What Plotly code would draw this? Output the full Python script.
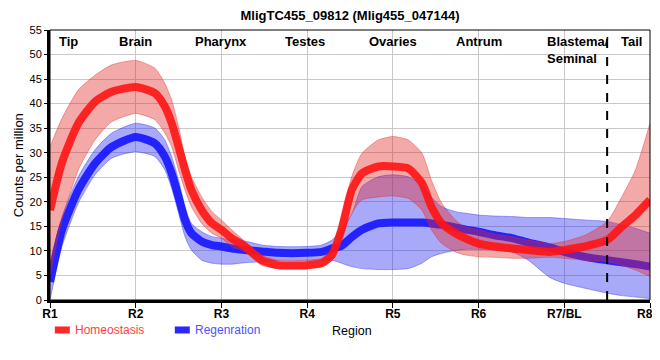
import plotly.graph_objects as go

# Region ticks
regions = ["R1", "R2", "R3", "R4", "R5", "R6", "R7/BL", "R8/T"]
region_pos = [1, 2, 3, 4, 5, 6, 7, 8]
y_ticks = list(range(0, 56, 5))

# Anatomical labels along the top
anat_labels = ["Tip", "Brain", "Pharynx", "Testes", "Ovaries", "Antrum", "Tail"]
anat_pos = [1.21, 2.0, 3.0, 3.98, 5.0, 6.0, 7.78]
blastema_label = "Blastema/<br>Seminal"
blastema_pos = 6.78
divider_pos = 7.5

x = [1.0, 1.14, 1.33, 1.525, 1.72, 2.0, 2.225, 2.34, 2.42, 2.5, 2.575, 2.65, 2.77, 2.89,
     3.0, 3.12, 3.275, 3.47, 3.66, 4.0, 4.17, 4.29, 4.4, 4.52, 4.64, 4.83, 5.0, 5.18,
     5.34, 5.45, 5.57, 5.73, 5.84, 6.0, 6.19, 6.39, 6.58, 6.83, 7.0, 7.24, 7.5, 7.67,
     7.83, 8.0]

homeo_mean = [18.3, 28.0, 36.0, 40.4, 42.4, 43.4, 42.1, 39.4, 36.0, 31.2, 26.5, 22.4, 18.3, 15.6,
              14.3, 12.6, 10.9, 8.1, 7.1, 7.1, 7.5, 9.2, 14.3, 22.4, 25.8, 27.2, 27.2, 26.8,
              23.8, 19.0, 15.6, 13.6, 12.6, 11.5, 10.9, 10.5, 10.2, 9.8, 10.2, 10.9, 12.2, 14.9,
              17.3, 20.4]
homeo_upper = [31.2, 37.0, 42.8, 45.8, 47.9, 48.8, 47.2, 44.1, 40.7, 35.3, 29.2, 25.1, 21.0, 18.0,
               16.3, 14.3, 11.9, 9.2, 8.1, 8.1, 8.5, 10.5, 16.3, 25.1, 29.9, 32.6, 33.3, 32.6,
               29.9, 24.4, 19.7, 16.3, 14.9, 14.3, 13.4, 12.9, 12.2, 11.5, 11.9, 13.2, 16.0, 21.0,
               26.5, 36.0]
homeo_lower = [5.0, 16.3, 26.5, 32.6, 36.3, 38.0, 36.7, 34.0, 31.2, 26.5, 22.4, 19.0, 15.6, 13.6,
               12.6, 10.9, 9.8, 7.1, 6.4, 6.4, 6.8, 8.1, 12.6, 17.7, 20.4, 21.0, 21.2, 20.7,
               18.3, 14.3, 11.5, 9.8, 9.2, 8.8, 8.7, 8.5, 8.5, 8.7, 8.5, 8.1, 7.8, 7.1,
               6.1, 4.8]

regen_mean = [3.7, 14.3, 22.4, 27.8, 31.2, 33.2, 31.9, 29.2, 25.8, 21.0, 16.3, 13.6, 11.9, 11.2,
              10.9, 10.5, 10.2, 9.9, 9.6, 9.6, 9.8, 10.5, 11.0, 12.8, 14.3, 15.6, 15.8, 15.8,
              15.8, 15.6, 15.3, 14.8, 14.4, 13.9, 13.2, 12.6, 11.7, 10.7, 9.8, 8.8, 8.1, 7.7,
              7.3, 6.8]
regen_upper = [7.5, 17.0, 25.1, 30.6, 34.0, 36.0, 35.0, 32.6, 29.2, 24.4, 19.0, 15.6, 13.9, 12.9,
               12.6, 12.2, 12.0, 11.2, 10.9, 10.9, 11.2, 12.2, 14.3, 17.5, 23.1, 25.1, 25.5, 25.1,
               23.4, 21.0, 19.0, 18.0, 17.7, 17.3, 17.1, 17.0, 16.8, 16.8, 16.6, 16.3, 16.0, 15.3,
               14.6, 13.6]
regen_lower = [0.0, 10.9, 19.7, 25.5, 28.9, 30.2, 29.2, 26.5, 22.7, 17.7, 12.9, 10.2, 8.1, 7.5,
               7.3, 7.3, 7.6, 7.8, 8.1, 8.1, 8.1, 8.1, 7.5, 6.8, 6.4, 6.2, 6.2, 6.4,
               7.5, 8.8, 9.5, 10.1, 10.3, 10.3, 10.2, 9.8, 8.1, 4.6, 3.4, 2.4, 1.4, 0.9,
               0.6, 0.3]

series_names = ["Homeostasis", "Regenration"]

RED_LINE = "rgba(255,20,20,0.9)"
RED_BAND = "rgba(228,40,40,0.4)"
BLUE_LINE = "rgba(20,20,255,0.9)"
BLUE_BAND = "rgba(40,40,240,0.4)"
FONT = "Liberation Sans, Arial, sans-serif"
SMOOTH = 0.6

fig = go.Figure()

def add_band(lower, upper, color):
    fig.add_trace(go.Scatter(x=x, y=lower, mode="lines",
                             line=dict(color=color, width=1, shape="spline", smoothing=SMOOTH),
                             hoverinfo="skip", showlegend=False))
    fig.add_trace(go.Scatter(x=x, y=upper, mode="lines", fill="tonexty", fillcolor=color,
                             line=dict(color=color, width=1, shape="spline", smoothing=SMOOTH),
                             hoverinfo="skip", showlegend=False))

def add_mean(vals, color, name):
    fig.add_trace(go.Scatter(x=x, y=vals, mode="lines", name=name,
                             line=dict(color=color, width=8, shape="spline", smoothing=SMOOTH),
                             showlegend=False))

add_band(regen_lower, regen_upper, BLUE_BAND)
add_mean(regen_mean, BLUE_LINE, series_names[1])
add_band(homeo_lower, homeo_upper, RED_BAND)
add_mean(homeo_mean, RED_LINE, series_names[0])

# divider
fig.add_shape(type="line", x0=divider_pos, x1=divider_pos, y0=0, y1=1, yref="paper",
              line=dict(color="black", width=2, dash="dash"))
# thin box on top / right
fig.add_shape(type="rect", x0=0, x1=1, y0=0, y1=1, xref="paper", yref="paper",
              line=dict(color="black", width=1))

# top anatomical labels
for lab, p in zip(anat_labels, anat_pos):
    fig.add_annotation(x=p, y=1, yref="paper", yanchor="top", yshift=-2, text="<b>%s</b>" % lab,
                       showarrow=False, font=dict(size=13, color="black", family=FONT))
fig.add_annotation(x=blastema_pos, y=1, yref="paper", xanchor="left", yanchor="top", yshift=-2,
                   align="left", text="<b>Blastema/</b><br><b>Seminal</b>", showarrow=False,
                   font=dict(size=13, color="black", family=FONT))

# y-axis title
fig.add_annotation(xref="paper", yref="paper", x=-0.053, y=0.5, xanchor="center",
                   yanchor="middle", textangle=-90, text="Counts per million", showarrow=False,
                   font=dict(size=13, color="black", family=FONT))

# legend (manual)
legend_items = [(series_names[0], "rgb(255,40,40)", "rgb(255,64,64)", 0.0),
                (series_names[1], "rgb(40,40,255)", "rgb(80,80,255)", 0.2)]
for name, sw, tc, off in legend_items:
    fig.add_shape(type="rect", xref="paper", yref="paper", x0=0.008 + off, x1=0.033 + off,
                  y0=-0.124, y1=-0.098, line=dict(width=0), fillcolor=sw)
    fig.add_annotation(xref="paper", yref="paper", x=0.038 + off, y=-0.111, xanchor="left",
                       yanchor="middle", text=name, showarrow=False,
                       font=dict(size=12, color=tc, family=FONT))
fig.add_annotation(xref="paper", yref="paper", x=0.503, y=-0.115, xanchor="center",
                   yanchor="middle", text="Region", showarrow=False,
                   font=dict(size=12.5, color="black", family=FONT))

fig.update_layout(
    width=660, height=360,
    margin=dict(l=42, r=18, t=22, b=68, autoexpand=False),
    paper_bgcolor="white", plot_bgcolor="white",
    title=dict(text="<b>MligTC455_09812 (Mlig455_047144)</b>", x=0.5, xanchor="center",
               xref="paper", y=0.993, yanchor="top",
               font=dict(size=13, color="black", family=FONT)),
    font=dict(family=FONT, size=12, color="black"),
    xaxis=dict(range=[1, 8], tickvals=region_pos, automargin=False,
               ticktext=["<b>%s</b>" % r for r in regions],
               showgrid=True, gridcolor="#c8c8c8", gridwidth=1,
               showline=True, linecolor="black", linewidth=3,
               ticks="outside", ticklen=5, tickcolor="black", tickwidth=1,
               ticklabelstandoff=-4, ticklabeloverflow="allow",
               tickfont=dict(size=12, color="black", family=FONT), zeroline=False),
    yaxis=dict(range=[0, 55], tickvals=y_ticks, automargin=False,
               showgrid=True, gridcolor="#c8c8c8", gridwidth=1,
               showline=True, linecolor="black", linewidth=3,
               ticks="outside", ticklen=3, tickcolor="black", tickwidth=1,
               tickfont=dict(size=11, color="black", family=FONT), zeroline=False),
)

fig.write_html("out.html")
